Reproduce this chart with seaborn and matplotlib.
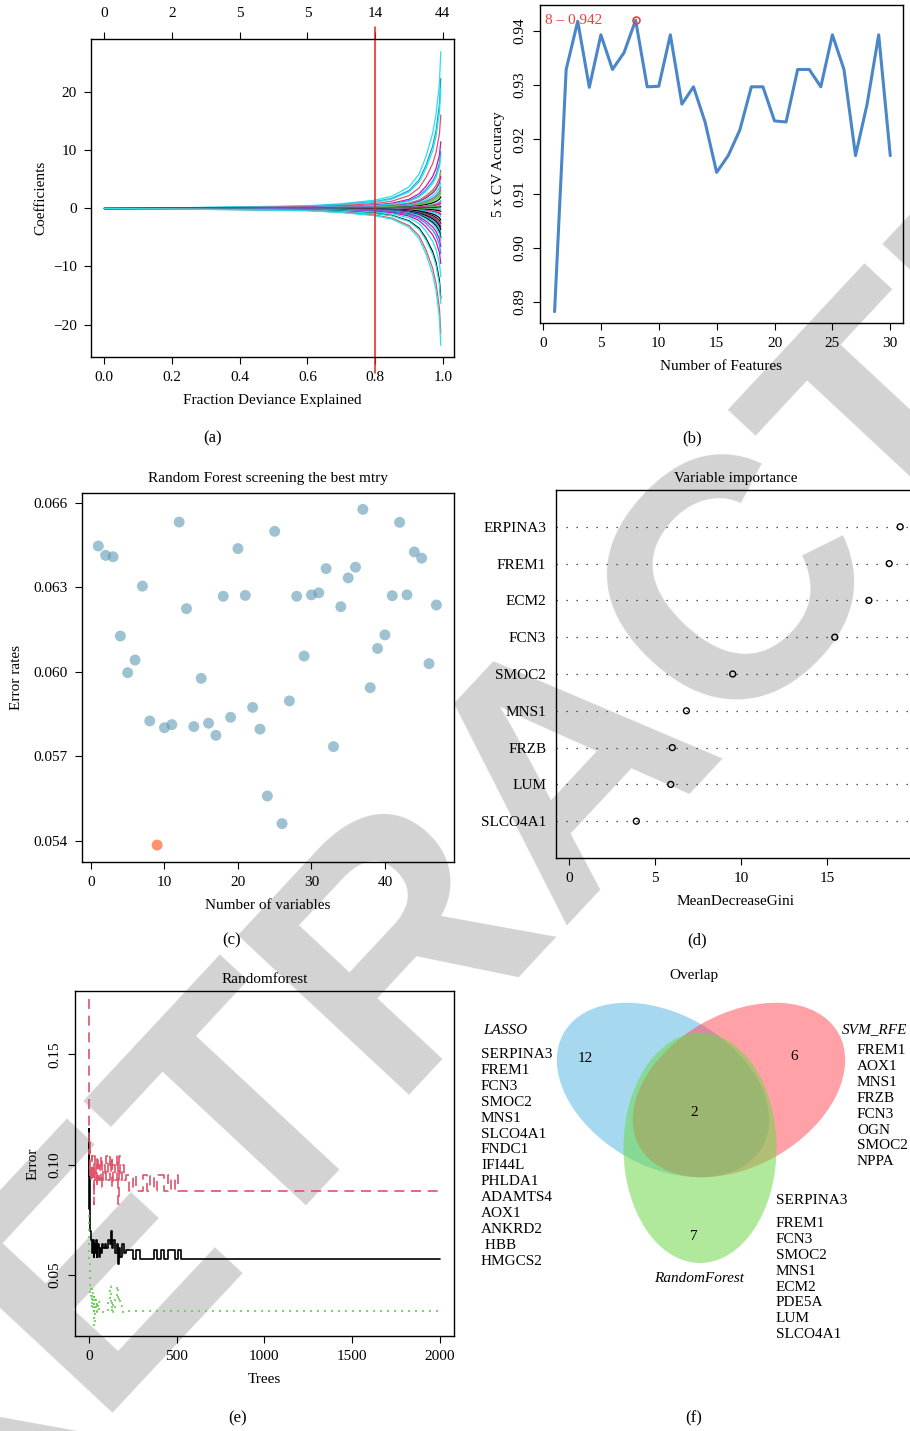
import numpy as np
import pandas as pd
import matplotlib
matplotlib.use("Agg")
import matplotlib.pyplot as plt
import seaborn as sns
from matplotlib.patches import Ellipse

# ============================================================
# DATA
# ============================================================

# (a) LASSO coefficient paths
frac_knots = [0.0, 0.2, 0.4, 0.6, 0.7, 0.8, 0.85, 0.9, 0.93, 0.95, 0.97, 0.98, 0.99, 0.994]
path_profile = [0.0, 0.004, 0.01, 0.017, 0.03, 0.053, 0.078, 0.137, 0.22, 0.33, 0.48, 0.6, 0.8, 1.0]
lasso_end = [27, 22.4, 20.7, 16.1, 11.5, 9.8, 8.9, 6.6, 6.0, 5.5, 4.5, 3.7, 3.2, 2.9, 2.6, 2.0,
             1.4, 1.2, 0.9, 0.6, 0.3, 0.1,
             -0.2, -0.5, -0.9, -1.1, -1.4, -2.0, -2.6, -3.0, -3.2, -3.7, -4.3, -4.9, -5.0,
             -5.5, -6.6, -7.8, -9.5, -11.8, -15.5, -16.4, -21.5, -23.6]
lasso_col = ["cy", "bl", "cy", "rd", "mg", "bl", "cy", "rd", "gr", "mg", "cy", "bl", "rd", "gr",
             "gr", "bk", "cy", "rd", "mg", "gr", "bk", "bl",
             "gr", "bk", "rd", "mg", "cy", "bk", "bk", "gr", "mg", "bk", "bl", "gr", "bk",
             "cy", "mg", "bl", "mg", "cy", "bk", "cy", "rd", "cy"]
r_palette = {"bk": "#000000", "rd": "#DF536B", "gr": "#61D04F",
             "bl": "#2297E6", "cy": "#28E2E5", "mg": "#CD0BBC"}
top_ticks = [0.0, 0.2, 0.4, 0.6, 0.8, 1.0]
top_labels = ["0", "2", "5", "5", "14", "44"]
lambda_frac = 0.8

# (b) SVM-RFE accuracy
n_features = list(range(1, 31))
cv_acc = [0.8882, 0.9329, 0.9418, 0.9296, 0.9393, 0.9329, 0.9360, 0.9420, 0.9297, 0.9298,
          0.9393, 0.9265, 0.9297, 0.9232, 0.9139, 0.9170, 0.9217, 0.9297, 0.9297, 0.9234,
          0.9232, 0.9329, 0.9329, 0.9297, 0.9393, 0.9329, 0.9170, 0.9265, 0.9393, 0.9170]

# (c) mtry screening
mtry = list(range(1, 48))
err_rates = [0.06446, 0.06413, 0.06408, 0.06127, 0.05997, 0.06042, 0.06304, 0.05826, 0.05386,
             0.05802, 0.05813, 0.06531, 0.06224, 0.05806, 0.05977, 0.05818, 0.05775, 0.06268,
             0.05839, 0.06437, 0.06271, 0.05874, 0.05797, 0.05560, 0.06498, 0.05462, 0.05897,
             0.06268, 0.06056, 0.06273, 0.06280, 0.06366, 0.05735, 0.06231, 0.06333, 0.06371,
             0.06576, 0.05944, 0.06083, 0.06131, 0.06270, 0.06530, 0.06273, 0.06425, 0.06403,
             0.06029, 0.06237]

# (d) variable importance
imp_genes = ["ERPINA3", "FREM1", "ECM2", "FCN3", "SMOC2", "MNS1", "FRZB", "LUM", "SLCO4A1"]
imp_gini = [19.24, 18.6, 17.42, 15.44, 9.51, 6.82, 6.0, 5.91, 3.91]

# (e) random forest error vs trees
trees = [1, 2, 3, 4, 6, 8, 10, 13, 16, 20, 24, 28, 32, 36, 40, 45, 50, 55, 60, 65, 70, 75, 80,
         90, 100, 110, 120, 125, 130, 135, 140, 150, 160, 165, 170, 180, 190, 200, 210, 230,
         250, 270, 290, 310, 330, 350, 370, 390, 410, 430, 450, 470, 490, 510, 525, 2000]
err_oob = [0.080, 0.116, 0.105, 0.095, 0.085, 0.075, 0.070, 0.066, 0.064, 0.060, 0.066, 0.058,
           0.064, 0.060, 0.066, 0.058, 0.062, 0.064, 0.058, 0.062, 0.060, 0.064, 0.062, 0.064,
           0.062, 0.066, 0.064, 0.070, 0.066, 0.062, 0.066, 0.060, 0.064, 0.055, 0.062, 0.058,
           0.064, 0.060, 0.0615, 0.0615, 0.0573, 0.0615, 0.0573, 0.0573, 0.0573, 0.0573, 0.0615,
           0.0573, 0.0615, 0.0573, 0.0615, 0.0615, 0.0573, 0.0615, 0.0573, 0.0573]
err_class2 = [0.175, 0.145, 0.120, 0.105, 0.110, 0.095, 0.100, 0.092, 0.104, 0.093, 0.100, 0.082,
              0.104, 0.093, 0.100, 0.090, 0.104, 0.093, 0.100, 0.093, 0.104, 0.090, 0.100, 0.093,
              0.104, 0.093, 0.104, 0.096, 0.104, 0.090, 0.100, 0.093, 0.104, 0.082, 0.104, 0.093,
              0.100, 0.093, 0.0955, 0.0882, 0.0955, 0.0882, 0.0882, 0.0955, 0.0882, 0.0955,
              0.0882, 0.0955, 0.0955, 0.0882, 0.0955, 0.0882, 0.0955, 0.0882, 0.0882, 0.0882]
err_class1 = [0.077, 0.070, 0.060, 0.055, 0.050, 0.045, 0.040, 0.045, 0.035, 0.042, 0.033, 0.040,
              0.027, 0.040, 0.033, 0.038, 0.033, 0.038, 0.033, 0.033, 0.033, 0.033, 0.033, 0.033,
              0.033, 0.038, 0.045, 0.038, 0.033, 0.038, 0.033, 0.040, 0.045, 0.038, 0.040, 0.036,
              0.033, 0.0338, 0.0338, 0.0338, 0.0338, 0.0338, 0.0338, 0.0338, 0.0338, 0.0338,
              0.0338, 0.0338, 0.0338, 0.0338, 0.0338, 0.0338, 0.0338, 0.0338, 0.0338, 0.0338]

# (f) overlap
venn_counts = {"lasso": 12, "svm": 6, "all": 2, "rf": 7}
lasso_genes = ["SERPINA3", "FREM1", "FCN3", "SMOC2", "MNS1", "SLCO4A1", "FNDC1", "IFI44L",
               "PHLDA1", "ADAMTS4", "AOX1", "ANKRD2", " HBB", "HMGCS2"]
svm_genes = ["FREM1", "AOX1", "MNS1", "FRZB", "FCN3", "OGN", "SMOC2", "NPPA"]
rf_genes = ["SERPINA3", "FREM1", "FCN3", "SMOC2", "MNS1", "ECM2", "PDE5A", "LUM", "SLCO4A1"]

# ============================================================
# STYLE
# ============================================================

sns.set_theme(style="ticks")
plt.rcParams["font.family"] = ["Liberation Serif", "DejaVu Serif"]
plt.rcParams.update({
    "font.size": 11,
    "axes.labelsize": 11,
    "axes.titlesize": 11,
    "xtick.labelsize": 11,
    "ytick.labelsize": 11,
    "axes.linewidth": 1.0,
    "axes.edgecolor": "black",
    "axes.facecolor": "none",
    "xtick.major.size": 5,
    "ytick.major.size": 5,
    "xtick.major.width": 0.8,
    "ytick.major.width": 0.8,
    "xtick.major.pad": 5,
    "ytick.major.pad": 5,
    "xtick.color": "black",
    "ytick.color": "black",
    "text.color": "black",
    "axes.labelcolor": "black",
})

W, H = 910, 1431
fig = plt.figure(figsize=(W / 100, H / 100), dpi=100)
fig.patch.set_facecolor("white")


def add_ax(x0, y0, x1, y1):
    # box given in pixels from the top-left corner
    return fig.add_axes([x0 / W, 1 - y1 / H, (x1 - x0) / W, (y1 - y0) / H])


# watermark behind everything
fig.text(575 / W, 1 - 765 / H, "RETRACTED", rotation=47, rotation_mode="anchor",
         ha="center", va="center", fontsize=245, fontweight="bold",
         family="Liberation Sans", color="#D3D3D3", zorder=-10)

# ============================================================
# (a) LASSO PATHS
# ============================================================

ax = add_ax(91, 39, 454, 357)
rows = []
for i, end in enumerate(lasso_end):
    for f, p in zip(frac_knots, path_profile):
        rows.append((f"g{i:02d}", f, end * p))
df_a = pd.DataFrame(rows, columns=["gene", "frac", "coef"])
pal_a = {f"g{i:02d}": r_palette[c] for i, c in enumerate(lasso_col)}
sns.lineplot(data=df_a, x="frac", y="coef", hue="gene", palette=pal_a,
             estimator=None, legend=False, lw=0.9, ax=ax)
ax.axvline(lambda_frac, ymin=-0.05, ymax=1.038, color="#E8201C", lw=1.1, clip_on=False)
ax.set_xlim(-0.039, 1.033)
ax.set_ylim(-25.6, 29.2)
ax.set_xticks([0.0, 0.2, 0.4, 0.6, 0.8, 1.0])
ax.set_xticklabels(["0.0", "0.2", "0.4", "0.6", "0.8", "1.0"])
ax.set_yticks([-20, -10, 0, 10, 20])
ax.set_xlabel("Fraction Deviance Explained", labelpad=7)
ax.set_ylabel("Coefficients", labelpad=4)
top = ax.secondary_xaxis("top")
top.set_xticks(top_ticks)
top.set_xticklabels(top_labels)
top.tick_params(length=5, pad=9)
top.spines["top"].set_visible(False)

# ============================================================
# (b) SVM-RFE
# ============================================================

ax = add_ax(540, 5, 903, 323)
sns.lineplot(x=n_features, y=cv_acc, color="#4A86C8", lw=2.2, ax=ax)
best_i = int(np.argmax(cv_acc))
ax.plot(n_features[best_i], cv_acc[best_i], "o", mfc="none", mec="#E8433A", ms=5, mew=1.2)
ax.text(0.2, cv_acc[best_i], f"{n_features[best_i]} – {cv_acc[best_i]:.3f}",
        color="#E8433A", ha="left", va="center", fontsize=11)
ax.set_xlim(-0.26, 31.1)
ax.set_ylim(0.8861, 0.9448)
ax.set_xticks([0, 5, 10, 15, 20, 25, 30])
ax.set_yticks([0.89, 0.90, 0.91, 0.92, 0.93, 0.94])
ax.set_yticklabels(["0.89", "0.90", "0.91", "0.92", "0.93", "0.94"], rotation=90, va="center")
ax.set_xlabel("Number of Features", labelpad=7)
ax.set_ylabel("5 x CV Accuracy", labelpad=6)

# ============================================================
# (c) MTRY SCREENING
# ============================================================

ax = add_ax(82, 493, 454, 862)
best_m = int(np.argmin(err_rates))
df_c = pd.DataFrame({"mtry": mtry, "err": err_rates})
df_c["best"] = df_c.index == best_m
sns.scatterplot(data=df_c[~df_c["best"]], x="mtry", y="err", color="#5E9AB4",
                alpha=0.6, s=62, edgecolor="none", ax=ax)
sns.scatterplot(data=df_c[df_c["best"]], x="mtry", y="err", color="#FC8D62",
                alpha=0.95, s=62, edgecolor="none", ax=ax)
ax.set_xlim(-1.22, 49.4)
ax.set_ylim(0.05326, 0.06634)
ax.set_xticks([0, 10, 20, 30, 40])
ax.set_yticks([0.054, 0.057, 0.060, 0.063, 0.066])
ax.set_yticklabels(["0.054", "0.057", "0.060", "0.063", "0.066"])
ax.set_xlabel("Number of variables", labelpad=7)
ax.set_ylabel("Error rates", labelpad=8)
ax.set_title("Random Forest screening the best mtry", pad=8)

# ============================================================
# (d) VARIABLE IMPORTANCE
# ============================================================

ax = add_ax(556, 490, 915, 858)
pos = list(range(len(imp_genes), 0, -1))
ax.hlines(pos, -0.756, 20.1, colors="0.15", linestyles=(0, (1, 7)), lw=0.9)
sns.scatterplot(x=imp_gini, y=pos, marker="o", s=18, facecolor="none",
                edgecolor="black", linewidth=1.0, ax=ax, zorder=3)
ax.set_xlim(-0.756, 20.1)
ax.set_ylim(0, len(imp_genes) + 1)
ax.set_xticks([0, 5, 10, 15])
ax.set_yticks(pos)
ax.set_yticklabels(imp_genes)
ax.tick_params(axis="y", length=0, pad=7)
ax.set_xlabel("MeanDecreaseGini", labelpad=7)
ax.set_title("Variable importance", pad=6)

# ============================================================
# (e) RANDOM FOREST ERROR
# ============================================================

ax = add_ax(75, 991, 454, 1336)
sns.lineplot(x=trees, y=err_oob, color="black", lw=1.2, drawstyle="steps-post", ax=ax)
sns.lineplot(x=trees, y=err_class2, color="#DF536B", lw=1.2, drawstyle="steps-post",
             linestyle=(0, (6, 4)), ax=ax)
sns.lineplot(x=trees, y=err_class1, color="#61D04F", lw=1.2, drawstyle="steps-post",
             linestyle=(0, (1.2, 3)), ax=ax)
ax.set_xlim(-78, 2080)
ax.set_ylim(0.0223, 0.1787)
ax.set_xticks([0, 500, 1000, 1500, 2000])
ax.set_yticks([0.05, 0.10, 0.15])
ax.set_yticklabels(["0.05", "0.10", "0.15"], rotation=90, va="center")
ax.set_xlabel("Trees", labelpad=7)
ax.set_ylabel("Error", labelpad=6)
ax.set_title("Randomforest", pad=6)

# ============================================================
# (f) VENN
# ============================================================

ax = fig.add_axes([460 / W, 0, 450 / W, 480 / H])
ax.set_xlim(460, 910)
ax.set_ylim(1431, 951)
ax.axis("off")
ax.add_patch(Ellipse((663, 1090), 229, 152, angle=30, facecolor="#4FB3E3", alpha=0.5, lw=0))
ax.add_patch(Ellipse((739, 1090), 229, 152, angle=-30, facecolor="#FF4451", alpha=0.5, lw=0))
ax.add_patch(Ellipse((700, 1148), 153, 230, angle=0, facecolor="#6FD84A", alpha=0.55, lw=0))
ax.text(585, 1058, str(venn_counts["lasso"]), ha="center", va="center")
ax.text(794, 1056, str(venn_counts["svm"]), ha="center", va="center")
ax.text(694, 1112, str(venn_counts["all"]), ha="center", va="center")
ax.text(694, 1237, str(venn_counts["rf"]), ha="center", va="center")
ax.text(483, 1030, "LASSO", style="italic", ha="left", va="center")
ax.text(842, 1030, "SVM_RFE", style="italic", ha="left", va="center")
ax.text(699, 1279, "RandomForest", style="italic", ha="center", va="center")
ax.text(481, 1048, "\n".join(lasso_genes), ha="left", va="top", linespacing=1.29)
ax.text(857, 1044, "\n".join(svm_genes), ha="left", va="top", linespacing=1.29)
ax.text(776, 1200, rf_genes[0], ha="left", va="center")
ax.text(776, 1217, "\n".join(rf_genes[1:]), ha="left", va="top", linespacing=1.29)
ax.text(694, 975, "Overlap", ha="center", va="center")

# ============================================================
# PANEL LABELS
# ============================================================

for lab, x, y in [("(a)", 213, 438), ("(b)", 692, 438), ("(c)", 232, 940),
                  ("(d)", 697, 940), ("(e)", 238, 1418), ("(f)", 694, 1418)]:
    fig.text(x / W, 1 - y / H, lab, ha="center", va="center", fontsize=12)

fig.savefig("out.png", dpi=100)
